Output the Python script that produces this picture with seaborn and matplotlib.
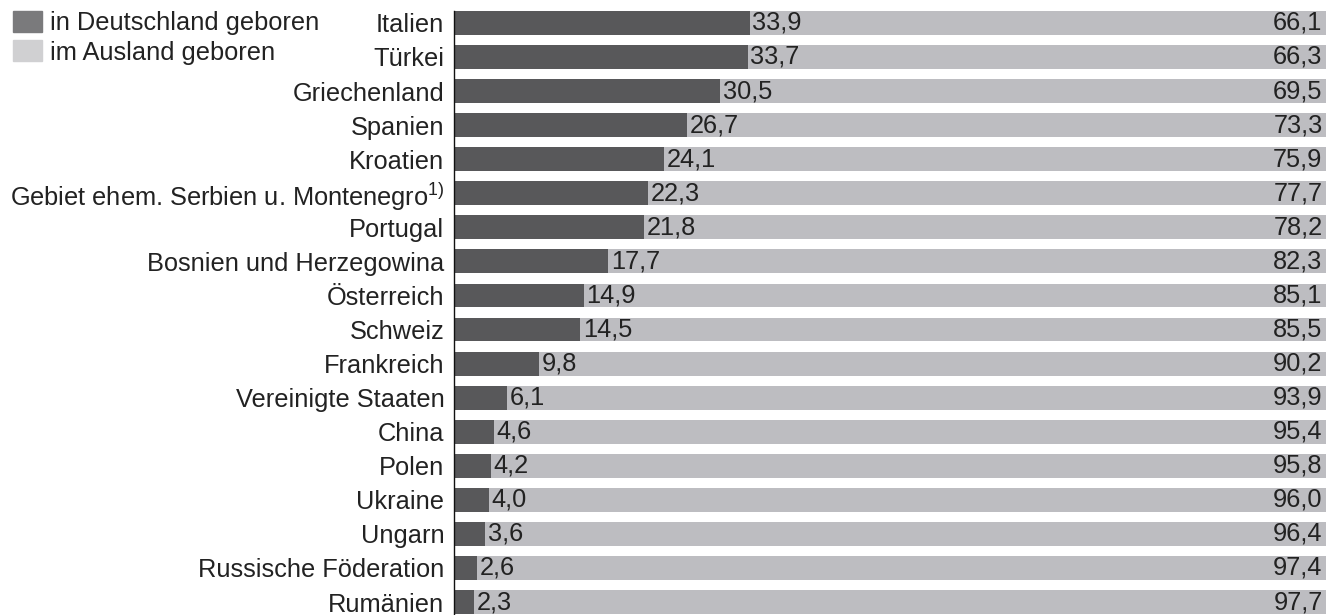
import numpy as np
import matplotlib
matplotlib.use("Agg")
import matplotlib.pyplot as plt
import seaborn as sns

countries = ["Italien", "Türkei", "Griechenland", "Spanien", "Kroatien",
             "Gebiet ehem. Serbien u. Montenegro$^{1)}$", "Portugal",
             "Bosnien und Herzegowina", "Österreich", "Schweiz", "Frankreich",
             "Vereinigte Staaten", "China", "Polen", "Ukraine", "Ungarn",
             "Russische Föderation", "Rumänien"]
de_born = [33.9, 33.7, 30.5, 26.7, 24.1, 22.3, 21.8, 17.7, 14.9, 14.5,
           9.8, 6.1, 4.6, 4.2, 4.0, 3.6, 2.6, 2.3]
abroad_born = [66.1, 66.3, 69.5, 73.3, 75.9, 77.7, 78.2, 82.3, 85.1, 85.5,
               90.2, 93.9, 95.4, 95.8, 96.0, 96.4, 97.4, 97.7]
legend_labels = ["in Deutschland geboren", "im Ausland geboren"]

dark = "#58585a"
light = "#bdbdc1"
txt = "#222222"
fs = 18.3

sns.set_style("white")
plt.rcParams["font.family"] = ["Liberation Sans", "DejaVu Sans"]
plt.rcParams["mathtext.fontset"] = "custom"
plt.rcParams["mathtext.rm"] = "Liberation Sans"
plt.rcParams["mathtext.it"] = "Liberation Sans"

fig = plt.figure(figsize=(13.34, 6.15), dpi=100)
ax = fig.add_axes([454 / 1334, 0, 872 / 1334, 604 / 615])

totals = np.array(de_born) + np.array(abroad_born)
sns.barplot(x=totals, y=countries, color=light, orient="h", width=0.7,
            saturation=1, linewidth=0, ax=ax)
sns.barplot(x=de_born, y=countries, color=dark, orient="h", width=0.7,
            saturation=1, linewidth=0, ax=ax)

for i, (d, a) in enumerate(zip(de_born, abroad_born)):
    ax.text(d + 0.3, i, f"{d:.1f}".replace(".", ","), va="center", ha="left",
            fontsize=fs, color=txt)
    ax.text(totals[i] - 0.4, i, f"{a:.1f}".replace(".", ","), va="center",
            ha="right", fontsize=fs, color=txt)

ax.set_xlim(0, 100)
ax.set_ylim(17.38, -0.35)
ax.set_xlabel("")
ax.set_ylabel("")
ax.set_xticks([])
ax.tick_params(axis="y", length=0, pad=7, labelsize=fs, labelcolor=txt)
for s in ["top", "right", "bottom"]:
    ax.spines[s].set_visible(False)
ax.spines["left"].set_color("#111111")
ax.spines["left"].set_linewidth(1.0)

handles = [plt.Rectangle((0, 0), 1, 1, color="#7a7a7c"),
           plt.Rectangle((0, 0), 1, 1, color="#d0d0d2")]
fig.legend(handles, legend_labels, loc="upper left", bbox_to_anchor=(0.0, 1.003),
           frameon=False, fontsize=fs, handlelength=1.15, handleheight=0.9,
           handletextpad=0.3, labelspacing=0.2, borderaxespad=0.2,
           borderpad=0.3, labelcolor=txt)

fig.savefig("out.png", dpi=100)
